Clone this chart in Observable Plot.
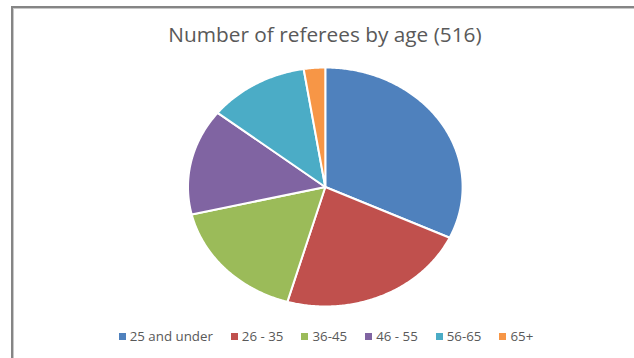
<!DOCTYPE html>
<html>
<head>
<meta charset="utf-8">
<script src="https://cdn.jsdelivr.net/npm/d3@7"></script>
<script src="https://cdn.jsdelivr.net/npm/@observablehq/plot@0.6"></script>
<style>
  html, body { margin: 0; padding: 0; background: #fff; }
  #wrap { position: relative; width: 634px; height: 358px; overflow: hidden; background: #fff; font-family: "Open Sans", "Liberation Sans", sans-serif; }
  #frame { position: absolute; left: 11px; top: 6px; width: 640px; height: 400px; border-top: 2px solid #858585; border-left: 2px solid #858585; }
  #frame2 { position: absolute; left: 13px; top: 8px; width: 640px; height: 400px; border-top: 1px solid #c8c8c8; border-left: 1px solid #c8c8c8; }
  #title { position: absolute; left: 0; width: 650px; top: 20px; text-align: center; color: #595959; font-size: 20.8px; }
  #chart { position: absolute; left: 0; top: 0; }
  #legend { position: absolute; left: 0; top: 327px; width: 652px; display: flex; justify-content: center; gap: 0; color: #595959; font-size: 13.3px; }
  .item { display: flex; align-items: center; margin: 0 9px; }
  .sw { width: 7px; height: 7px; margin-right: 4px; }
</style>
</head>
<body>
<div id="wrap">
  <div id="frame"></div>
  <div id="frame2"></div>
  <div id="chart"></div>
  <div id="title">Number of referees by age (516)</div>
  <div id="legend"></div>
</div>
<script>
const categories = ["25 and under", "26 - 35", "36-45", "46 - 55", "56-65", "65+"];
const values = [165, 116, 87, 74, 61, 13];
const colors = ["#4F81BD", "#C0504D", "#9BBB59", "#8064A2", "#4BACC6", "#F79646"];

const data = categories.map((c, i) => ({category: c, value: values[i]}));
const arcs = d3.pie().sort(null).value(d => d.value)(data);

// polygon outline of each slice in unit-circle coordinates
const pts = [];
arcs.forEach((a, i) => {
  const cat = a.data.category;
  pts.push({category: cat, x: 0, y: 0});
  const n = Math.max(2, Math.ceil((a.endAngle - a.startAngle) / 0.01));
  for (let k = 0; k <= n; k++) {
    const t = a.startAngle + (a.endAngle - a.startAngle) * k / n;
    pts.push({category: cat, x: Math.sin(t), y: Math.cos(t)});
  }
  pts.push({category: cat, x: 0, y: 0});
});

const W = 634, H = 358;
const cx = 324.8, cy = 186.5, rx = 137.3, ry = 119.5;

const chart = Plot.plot({
  width: W,
  height: H,
  margin: 0,
  x: {domain: [-cx / rx, (W - cx) / rx], axis: null},
  y: {domain: [-(H - cy) / ry, cy / ry], axis: null},
  color: {domain: categories, range: colors},
  marks: [
    Plot.line(pts, {
      x: "x", y: "y", z: "category", fill: "category",
      stroke: "white", strokeWidth: 2, strokeLinejoin: "round", curve: "linear-closed"
    })
  ]
});
document.getElementById("chart").appendChild(chart);

const legend = document.getElementById("legend");
categories.forEach((c, i) => {
  const it = document.createElement("div");
  it.className = "item";
  it.innerHTML = `<span class="sw" style="background:${colors[i]}"></span><span>${c}</span>`;
  legend.appendChild(it);
});
</script>
</body>
</html>
